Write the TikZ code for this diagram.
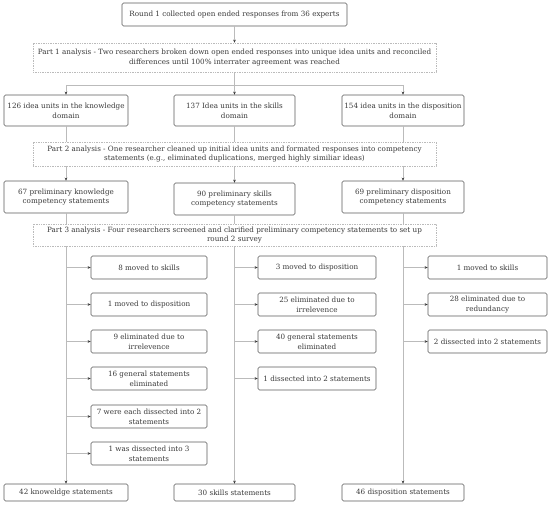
\documentclass[tikz,border=0pt]{standalone}
\usepackage{fontspec}
\setmainfont{DejaVu Serif}
\usetikzlibrary{arrows.meta}
\definecolor{txt}{HTML}{3A3A3A}
\definecolor{bord}{HTML}{5A5A5A}
\definecolor{lin}{HTML}{BBBBBB}
\definecolor{tip}{HTML}{333333}
\tikzset{
  base/.style={align=center, inner sep=0pt, text=txt, font=\fontsize{7.2}{9.8}\selectfont, fill=white},
  solidbox/.style={base, draw=bord, line width=0.6pt, rounded corners=1.5pt},
  dotbox/.style={base, draw=lin, line width=0.6pt, dash pattern=on 0.8pt off 0.9pt},
  conn/.style={draw=lin, line width=0.6pt},
  arr/.style={conn, -{Stealth[length=3pt,width=2.6pt,color=tip]}},
}
\newcommand{\bx}[6]{\node[#1, minimum width=#4pt, minimum height=#5pt] (#2) at (#3) {#6};}
\begin{document}
\begin{tikzpicture}[x=1pt,y=-1pt]
\useasboundingbox (0,0) rectangle (550,505);
% top
\bx{solidbox}{top}{234.5,14.5}{225}{23}{Round 1 collected open ended responses from 36 experts}
\bx{dotbox}{pa}{234.5,57.5}{403}{29}{Part 1 analysis - Two researchers broken down open ended responses into unique idea units and reconciled\\differences until 100\% interrater agreement was reached}
\bx{solidbox}{da}{66,110.5}{124}{31}{126 idea units in the knowledge\\domain}
\bx{solidbox}{db}{234.5,110.5}{121}{31}{137 Idea units in the skills\\domain}
\bx{solidbox}{dc}{403,110.5}{122}{31}{154 idea units in the disposition\\domain}
\bx{dotbox}{pb}{234.5,154}{403}{24}{Part 2 analysis - One researcher cleaned up initial idea units and formated responses into competency\\statements (e.g., eliminated duplications, merged highly similiar ideas)}
\bx{solidbox}{qa}{66,197}{124}{32}{67 preliminary knowledge\\competency statements}
\bx{solidbox}{qb}{234.5,199}{121}{32}{90 preliminary skills\\competency statements}
\bx{solidbox}{qc}{403,197}{122}{32}{69 preliminary disposition\\competency statements}
\bx{dotbox}{pc}{234.5,235}{403}{22}{Part 3 analysis - Four researchers screened and clarified preliminary competency statements to set up\\round 2 survey}
% knowledge subs
\bx{solidbox}{ka}{149,267.5}{116}{23}{8 moved to skills}
\bx{solidbox}{kb}{149,304.5}{116}{23}{1 moved to disposition}
\bx{solidbox}{kc}{149,341.5}{116}{23}{9 eliminated due to\\irrelevence}
\bx{solidbox}{kd}{149,378.5}{116}{23}{16 general statements\\eliminated}
\bx{solidbox}{ke}{149,416.5}{116}{23}{7 were each dissected into 2\\statements}
\bx{solidbox}{kf}{149,453.5}{116}{23}{1 was dissected into 3\\statements}
% skills subs
\bx{solidbox}{sa}{317,267.5}{118}{23}{3 moved to disposition}
\bx{solidbox}{sb}{317,304.5}{118}{23}{25 eliminated due to\\irrelevence}
\bx{solidbox}{sc}{317,341.5}{118}{23}{40 general statements\\eliminated}
\bx{solidbox}{sd}{317,378.5}{118}{23}{1 dissected into 2 statements}
% disposition subs
\bx{solidbox}{ta}{487.5,267.5}{119}{23}{1 moved to skills}
\bx{solidbox}{tb}{487.5,304.5}{119}{23}{28 eliminated due to\\redundancy}
\bx{solidbox}{tc}{487.5,341.5}{119}{23}{2 dissected into 2 statements}
% finals
\bx{solidbox}{fa}{66,492.5}{124}{17}{42 knoweldge statements}
\bx{solidbox}{fb}{234.5,492.5}{121}{17}{30 skills statements}
\bx{solidbox}{fc}{403,492.5}{122}{17}{46 disposition statements}
% connectors
\draw[arr] (top) -- (pa);
\coordinate (ha) at (66,85);
\coordinate (hb) at (234.5,85);
\coordinate (hc) at (403,85);
\draw[conn] (pa.south) -- (hb);
\draw[conn] (ha) -- (hc);
\draw[arr] (ha) -- (da);
\draw[arr] (hb) -- (db);
\draw[arr] (hc) -- (dc);
\draw[conn] (da) -- (da |- pb.north);
\draw[conn] (db) -- (pb);
\draw[conn] (dc) -- (dc |- pb.north);
\draw[arr] (pb.south -| qa) -- (qa);
\draw[arr] (pb) -- (qb);
\draw[arr] (pb.south -| qc) -- (qc);
\draw[conn] (qa) -- (qa |- pc.north);
\draw[conn] (qb) -- (pc);
\draw[conn] (qc) -- (qc |- pc.north);
\draw[arr] (pc.south -| fa) -- (fa);
\draw[arr] (pc) -- (fb);
\draw[arr] (pc.south -| fc) -- (fc);
\foreach \n in {ka,kb,kc,kd,ke,kf} \draw[arr] (\n.west -| fa) -- (\n);
\foreach \n in {sa,sb,sc,sd} \draw[arr] (\n.west -| fb) -- (\n);
\foreach \n in {ta,tb,tc} \draw[arr] (\n.west -| fc) -- (\n);
\end{tikzpicture}
\end{document}
